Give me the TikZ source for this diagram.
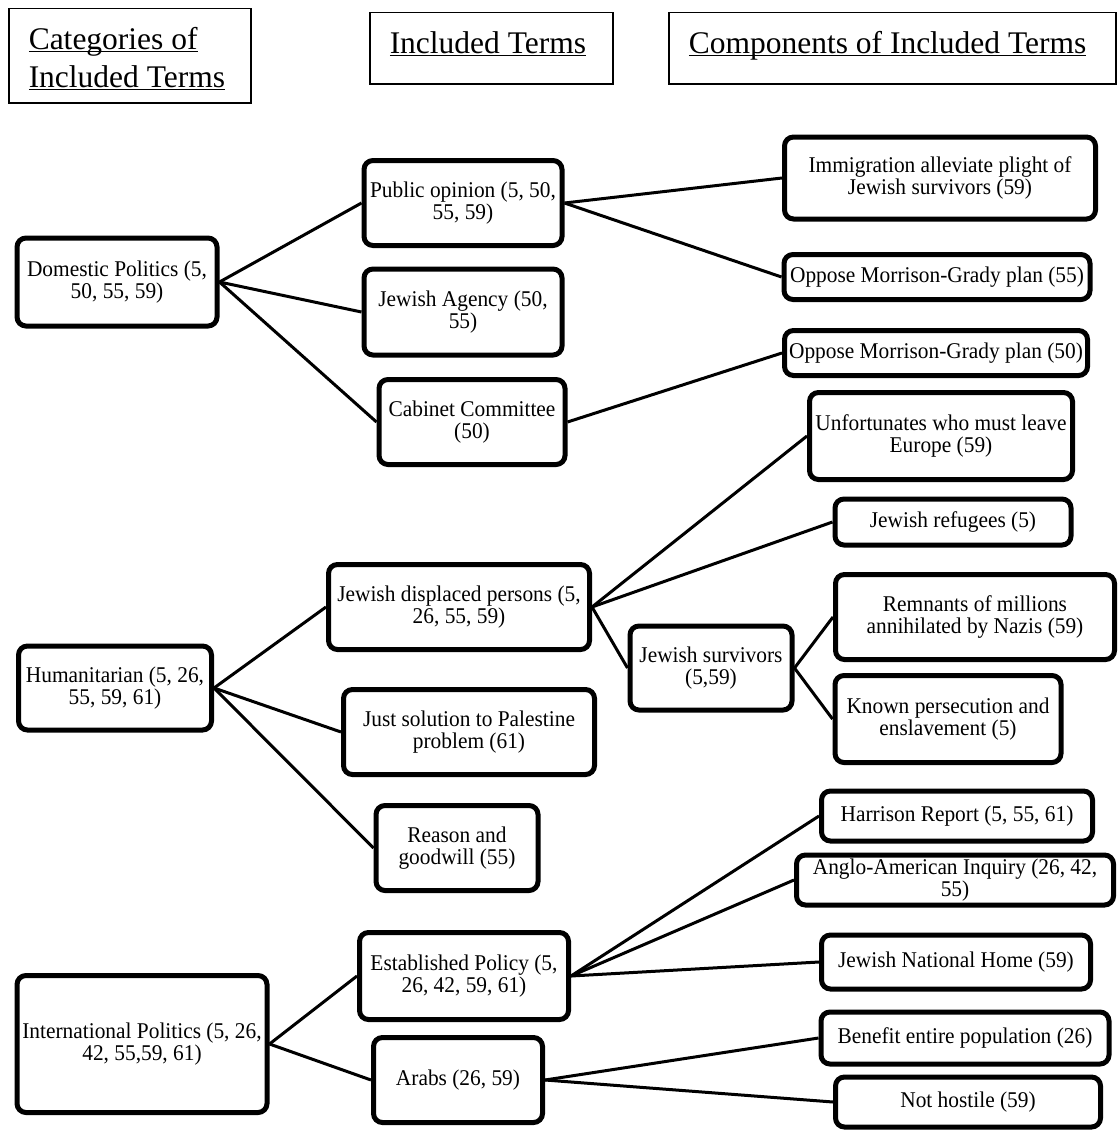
\documentclass[tikz,border=0pt]{standalone}
\usepackage{fontspec}
\setmainfont[FakeStretch=0.95]{Liberation Serif}
\newfontfamily\headfamily{Liberation Serif}
\usetikzlibrary{shapes,arrows,positioning}
\newcommand{\termfont}{\fontsize{22.5}{22}\selectfont}
\newcommand{\titlefont}{\headfamily\fontsize{31.5}{38}\selectfont}
\newcommand{\headline}[1]{\strut\underline{\smash{#1}}}
\tikzstyle{termbox} = [draw, line width=5pt, rounded corners=9pt, align=center, inner sep=2pt, font=\termfont]
\tikzstyle{headbox} = [draw, line width=1.5pt, anchor=north west, inner xsep=20pt, inner ysep=14pt, font=\titlefont]
\tikzstyle{branch} = [line width=3pt]

\begin{document}
\begin{tikzpicture}[x=1pt, y=-1pt]
	\useasboundingbox (0,0) rectangle (1117,1132);
	% column headings
	\node[headbox] (cathead) at (8,8) {\begin{minipage}[c][66pt][t]{202pt}\headline{Categories of}\\\headline{Included Terms}\end{minipage}};
	\node[headbox] (inchead) at (369,12) {\begin{minipage}[c][43pt][t]{203pt}\headline{Included Terms}\end{minipage}};
	\node[headbox] (comphead) at (668,12) {\begin{minipage}[c][43pt][t]{407pt}\headline{Components of Included Terms}\end{minipage}};
	% categories
	\node[termbox, minimum width=200pt, minimum height=88pt] (dom) at (117,282) {Domestic Politics (5,\\50, 55, 59)};
	\node[termbox, minimum width=193pt, minimum height=84pt] (hum) at (115,688) {Humanitarian (5, 26,\\55, 59, 61)};
	\node[termbox, minimum width=250pt, minimum height=137pt] (intl) at (142,1044) {International Politics (5, 26,\\42, 55,59, 61)};
	% included terms
	\node[termbox, minimum width=198pt, minimum height=85pt] (pub) at (463,203) {Public opinion (5, 50,\\55, 59)};
	\node[termbox, minimum width=198pt, minimum height=86pt] (agency) at (463,312) {Jewish Agency (50,\\55)};
	\node[termbox, minimum width=186pt, minimum height=85pt] (cab) at (472,422) {Cabinet Committee\\(50)};
	\node[termbox, minimum width=261pt, minimum height=85pt] (jdp) at (459,607) {Jewish displaced persons (5,\\26, 55, 59)};
	\node[termbox, minimum width=162pt, minimum height=84pt] (jsurv) at (711,668) {Jewish survivors\\(5,59)};
	\node[termbox, minimum width=251pt, minimum height=85pt] (just) at (469,732) {Just solution to Palestine\\problem (61)};
	\node[termbox, minimum width=162pt, minimum height=85pt] (reason) at (457,848) {Reason and\\goodwill (55)};
	\node[termbox, minimum width=209pt, minimum height=87pt] (estab) at (464,976) {Established Policy (5,\\26, 42, 59, 61)};
	\node[termbox, minimum width=169pt, minimum height=85pt] (arabs) at (458,1080) {Arabs (26, 59)};
	% components
	\node[termbox, minimum width=311pt, minimum height=82pt] (immig) at (940,178) {Immigration alleviate plight of\\Jewish survivors (59)};
	\node[termbox, minimum width=306pt, minimum height=45pt] (opp55) at (937,277) {Oppose Morrison-Grady plan (55)};
	\node[termbox, minimum width=303pt, minimum height=45pt] (opp50) at (936,353) {Oppose Morrison-Grady plan (50)};
	\node[termbox, minimum width=263pt, minimum height=87pt] (unfort) at (941,436) {Unfortunates who must leave\\Europe (59)};
	\node[termbox, minimum width=236pt, minimum height=46pt] (refug) at (953,522) {Jewish refugees (5)};
	\node[termbox, minimum width=279pt, minimum height=85pt] (remn) at (975,617) {Remnants of millions\\annihilated by Nazis (59)};
	\node[termbox, minimum width=226pt, minimum height=87pt] (known) at (948,719) {Known persecution and\\enslavement (5)};
	\node[termbox, minimum width=271pt, minimum height=50pt] (harris) at (957,816) {Harrison Report (5, 55, 61)};
	\node[termbox, minimum width=317pt, minimum height=50pt, inner sep=0pt] (anglo) at (955,880) {Anglo-American Inquiry (26, 42,\\55)};
	\node[termbox, minimum width=269pt, minimum height=54pt] (jnh) at (956,962) {Jewish National Home (59)};
	\node[termbox, minimum width=288pt, minimum height=52pt] (benefit) at (965,1038) {Benefit entire population (26)};
	\node[termbox, minimum width=265pt, minimum height=50pt] (nothost) at (968,1102) {Not hostile (59)};
	% branches
	\draw[branch] (dom.east) -- (pub.west);
	\draw[branch] (dom.east) -- (agency.west);
	\draw[branch] (dom.east) -- (cab.west);
	\draw[branch] (pub.east) -- (immig.west);
	\draw[branch] (pub.east) -- (opp55.west);
	\draw[branch] (cab.east) -- (opp50.west);
	\draw[branch] (hum.east) -- (jdp.west);
	\draw[branch] (hum.east) -- (just.west);
	\draw[branch] (hum.east) -- (reason.west);
	\draw[branch] (jdp.east) -- (unfort.west);
	\draw[branch] (jdp.east) -- (refug.west);
	\draw[branch] (jdp.east) -- (jsurv.west);
	\draw[branch] (jsurv.east) -- (remn.west);
	\draw[branch] (jsurv.east) -- (known.west);
	\draw[branch] (intl.east) -- (estab.west);
	\draw[branch] (intl.east) -- (arabs.west);
	\draw[branch] (estab.east) -- (harris.west);
	\draw[branch] (estab.east) -- (anglo.west);
	\draw[branch] (estab.east) -- (jnh.west);
	\draw[branch] (arabs.east) -- (benefit.west);
	\draw[branch] (arabs.east) -- (nothost.west);
\end{tikzpicture}
\end{document}
